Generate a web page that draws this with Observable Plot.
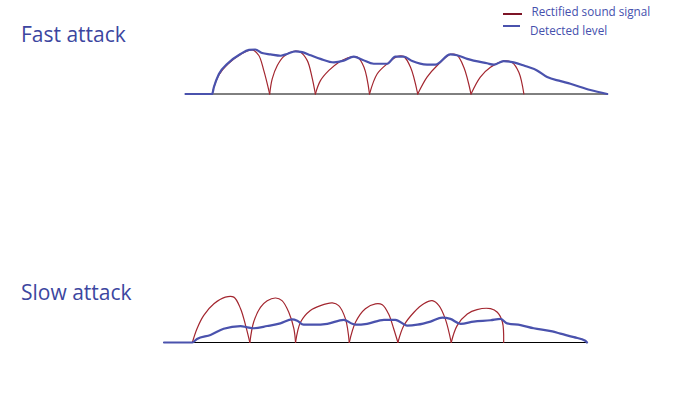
<!DOCTYPE html>
<html>
<head>
<meta charset="utf-8">
<script src="https://cdn.jsdelivr.net/npm/d3@7"></script>
<script src="https://cdn.jsdelivr.net/npm/@observablehq/plot@0.6"></script>
<style>
  body { margin: 0; background: #fff; }
  #chart { position: relative; width: 688px; height: 414px; background: #fff; font-family: "Open Sans", sans-serif; overflow: hidden; }
  .title { position: absolute; left: 21px; font-size: 21px; line-height: 21px; color: #3c46a0; white-space: nowrap; }
  .leg { position: absolute; font-size: 11.7px; line-height: 11.7px; color: #4550ad; white-space: nowrap; }
  .sw { position: absolute; height: 2px; }
  .panel { position: absolute; left: 0; }
</style>
</head>
<body>
<div id="chart"></div>
<script>
// ---- text ----
const panelTitles = ["Fast attack", "Slow attack"];
const legendLabels = ["Rectified sound signal", "Detected level"];

// ---- data: time (0-100) and amplitude (0-1) ----
// Fast attack: rectified sound signal, one array per half-wave
const fastSignal = [
  [[6.3,0],[6.7,0.15],[7.9,0.43],[9.9,0.66],[13.0,0.89],[15.8,0.99],[17.3,0.87],[18.5,0.53],[19.9,0]],
  [[19.9,0],[20.5,0.34],[21.7,0.64],[23.2,0.84],[25.6,0.96],[27.2,0.94],[28.8,0.75],[29.9,0.38],[30.7,0]],
  [[30.7,0],[31.9,0.30],[33.9,0.53],[36.2,0.71],[39.0,0.83],[40.6,0.83],[42.2,0.60],[43.5,0]],
  [[43.5,0],[45.3,0.45],[47.7,0.68],[50.0,0.84],[51.6,0.84],[53.2,0.60],[54.9,0]],
  [[54.9,0],[57.1,0.38],[59.5,0.64],[62.6,0.89],[64.2,0.87],[65.8,0.60],[67.5,0]],
  [[67.5,0],[69.7,0.38],[72.1,0.60],[75.2,0.74],[77.2,0.71],[78.8,0.49],[80.0,0]]
];
// Fast attack: detected level
const fastLevel = [
  [0,0],[6.3,0],[6.7,0.15],[7.9,0.45],[9.9,0.68],[13.0,0.90],[15.0,0.99],[16.5,1.0],[18.1,0.92],
  [20.1,0.89],[22.5,0.86],[24.0,0.90],[26.0,0.96],[27.6,0.94],[29.6,0.87],[31.9,0.79],[35.1,0.71],
  [37.4,0.75],[39.8,0.84],[41.8,0.77],[44.5,0.68],[47.7,0.68],[49.6,0.84],[51.6,0.84],[53.6,0.74],
  [57.1,0.66],[59.1,0.66],[62.6,0.89],[64.2,0.87],[66.6,0.79],[71.3,0.69],[72.9,0.66],[75.2,0.74],
  [77.6,0.71],[80.0,0.64],[83.1,0.53],[85.5,0.38],[88.7,0.29],[91.0,0.23],[95.7,0.09],[99.7,0]
];
// Slow attack: rectified sound signal
const slowSignal = [
  [[6.7,0],[7.8,0.31],[9.4,0.61],[11.8,0.87],[14.5,1.02],[16.5,1.02],[18.1,0.76],[19.3,0.38],[20.3,0]],
  [[20.3,0],[21.2,0.46],[22.8,0.79],[24.4,0.94],[26.4,1.0],[27.9,0.94],[29.5,0.68],[30.7,0.31],[31.1,0]],
  [[31.1,0],[32.3,0.46],[34.6,0.72],[37.0,0.83],[39.8,0.89],[41.3,0.83],[42.9,0.53],[43.8,0]],
  [[43.8,0],[45.3,0.46],[47.6,0.76],[50.0,0.87],[51.6,0.85],[53.1,0.64],[54.3,0.31],[55.3,0]],
  [[55.3,0],[56.7,0.38],[59.1,0.68],[61.4,0.87],[63.4,0.94],[65.0,0.83],[66.5,0.53],[67.9,0]],
  [[67.9,0],[69.3,0.38],[71.7,0.64],[74.0,0.74],[77.2,0.76],[78.8,0.68],[80.0,0.46],[80.3,0]]
];
// Slow attack: detected level
const slowLevel = [
  [0,0],[6.7,0],[7.8,0.08],[11.0,0.17],[14.1,0.31],[18.1,0.37],[19.7,0.34],[21.2,0.32],[24.4,0.37],
  [27.5,0.43],[30.3,0.52],[31.5,0.49],[33.0,0.40],[35.4,0.40],[38.6,0.42],[42.5,0.51],[44.5,0.42],
  [45.3,0.40],[48.0,0.42],[52.0,0.51],[54.7,0.51],[57.5,0.38],[59.9,0.40],[63.0,0.47],[65.8,0.56],
  [67.7,0.53],[70.1,0.42],[73.2,0.47],[77.2,0.50],[79.6,0.53],[81.1,0.43],[84.3,0.39],[87.4,0.32],
  [91.8,0.25],[93.7,0.20],[96.9,0.12],[99.6,0.04],[100,0]
];

const signalColor = "#a3262f";
const levelColor = "#4a52ad";
const legendSignalColor = "#7d1426";

const toArches = arr => arr.flatMap((arch, i) => arch.map(([t, a]) => ({t, a, arch: i})));
const toRows = arr => arr.map(([t, a]) => ({t, a}));

function panel(signal, level, m) {
  return Plot.plot({
    width: 688, height: 100,
    marginLeft: m.left, marginRight: m.right, marginTop: m.top, marginBottom: m.bottom,
    x: {domain: [0, 100], axis: null},
    y: {domain: [0, 1], axis: null},
    marks: [
      Plot.ruleY([0], {stroke: "#000", strokeWidth: 1}),
      Plot.line(toArches(signal), {x: "t", y: "a", z: "arch", stroke: signalColor, strokeWidth: 1.2, curve: "catmull-rom"}),
      Plot.line(toRows(level), {x: "t", y: "a", stroke: levelColor, strokeWidth: 2.2, curve: "monotone-x"})
    ]
  });
}

const chart = document.getElementById("chart");

const top1 = panel(fastSignal, fastLevel, {left: 185, right: 80, top: 49, bottom: 6.5});
top1.classList.add("panel"); top1.style.top = "0px";
chart.appendChild(top1);

const bot1 = panel(slowSignal, slowLevel, {left: 163.5, right: 101.5, top: 47.5, bottom: 8});
bot1.classList.add("panel"); bot1.style.top = "250px";
chart.appendChild(bot1);

// titles
[[panelTitles[0], 24.4], [panelTitles[1], 282.4]].forEach(([txt, top]) => {
  const d = document.createElement("div");
  d.className = "title"; d.textContent = txt; d.style.top = top + "px";
  chart.appendChild(d);
});

// legend
const legendItems = [
  {label: legendLabels[0], color: legendSignalColor, swTop: 13.3, swLeft: 503, swW: 19, txtLeft: 531.5, txtTop: 6.4},
  {label: legendLabels[1], color: levelColor, swTop: 25, swLeft: 503, swW: 17, txtLeft: 530, txtTop: 24.7}
];
legendItems.forEach(it => {
  const s = document.createElement("div");
  s.className = "sw";
  s.style.left = it.swLeft + "px"; s.style.top = it.swTop + "px"; s.style.width = it.swW + "px";
  s.style.background = it.color;
  chart.appendChild(s);
  const t = document.createElement("div");
  t.className = "leg"; t.textContent = it.label;
  t.style.left = it.txtLeft + "px"; t.style.top = it.txtTop + "px";
  chart.appendChild(t);
});
</script>
</body>
</html>
